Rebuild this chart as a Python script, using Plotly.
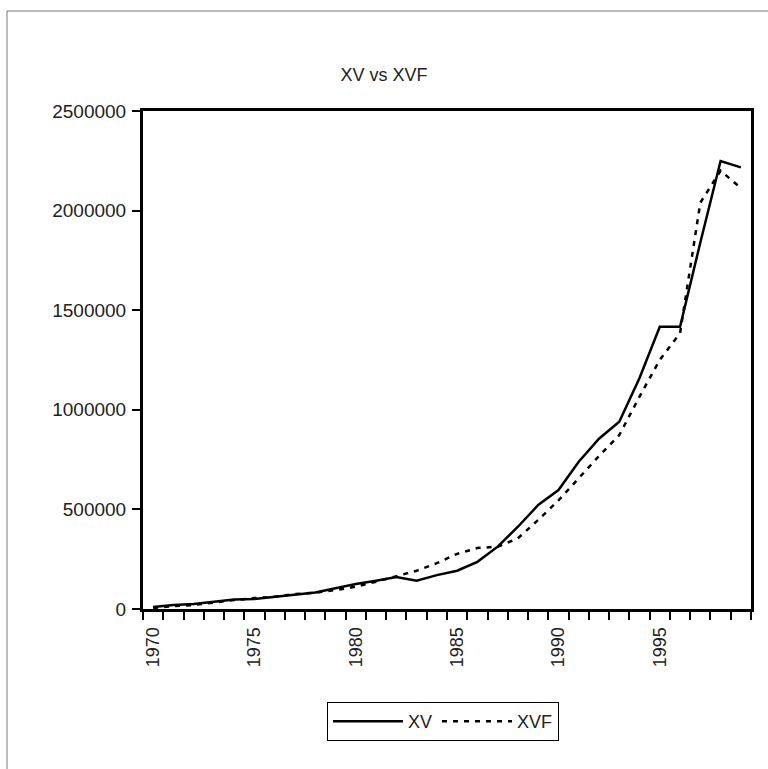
import plotly.graph_objects as go

years = list(range(1970, 2000))
xv = [10000, 20000, 25000, 37000, 48000, 50000, 62000, 73000, 83000, 104000,
      125000, 142000, 160000, 142000, 170000, 192000, 237000, 313000, 413000, 522000,
      597000, 739000, 855000, 940000, 1160000, 1417000, 1417000, 1840000, 2249000, 2217000]
xvf = [5000, 15000, 20000, 33000, 45000, 55000, 62000, 75000, 82000, 95000,
       112000, 137000, 166000, 192000, 230000, 277000, 306000, 313000, 355000, 447000,
       545000, 658000, 768000, 873000, 1066000, 1251000, 1385000, 2040000, 2200000, 2113000]
x_labels = [1970, 1975, 1980, 1985, 1990, 1995]
y_ticks = [0, 500000, 1000000, 1500000, 2000000, 2500000]

W, H = 768, 769
L, R, T, B = 143, 17, 111, 160
pw, ph = W - L - R, H - T - B

def px(x):
    return (x - L) / pw

def py(y):
    return (H - B - y) / ph

font = "Liberation Sans, Arial, sans-serif"

fig = go.Figure()
fig.add_trace(go.Scatter(x=years, y=xv, mode="lines", name="XV",
                         line=dict(color="black", width=2.5)))
fig.add_trace(go.Scatter(x=years, y=xvf, mode="lines", name="XVF",
                         line=dict(color="black", width=2.5, dash="5px,6px")))

fig.update_layout(
    width=W, height=H,
    margin=dict(l=L, r=R, t=T, b=B, autoexpand=False),
    paper_bgcolor="white", plot_bgcolor="white",
    font=dict(family=font, color="#222", size=18),
    title=dict(text="XV vs XVF", xref="container", x=384 / W, xanchor="center",
               yref="container", y=1 - 75 / H, yanchor="middle",
               font=dict(size=18, color="#222")),
    showlegend=True,
    legend=dict(orientation="h", x=px(443), xanchor="center",
                y=py(702), yanchor="top", bordercolor="black", borderwidth=1,
                font=dict(size=18, color="#222"), itemwidth=70,
                bgcolor="white"),
    shapes=[dict(type="rect", xref="paper", yref="paper",
                 x0=px(7), x1=px(790), y0=py(790), y1=py(11),
                 line=dict(color="#777", width=1), layer="below")],
)

fig.update_xaxes(
    range=[1969.5, 1999.5], tickmode="array", tickvals=x_labels,
    ticktext=[str(v) for v in x_labels], tickangle=-90, ticks="",
    showline=True, linecolor="black", linewidth=3, mirror=True,
    showgrid=False, zeroline=False,
    tickfont=dict(size=18, color="#222"), ticklabelstandoff=8,
    minor=dict(tickmode="linear", tick0=1969.5, dtick=1, ticks="outside",
               ticklen=8, tickwidth=1.5, tickcolor="black", showgrid=False),
)
fig.update_yaxes(
    range=[0, 2500000], tickmode="array", tickvals=y_ticks,
    ticktext=[str(v) for v in y_ticks], ticks="outside", ticklen=8,
    tickwidth=1.5, tickcolor="black",
    showline=True, linecolor="black", linewidth=3, mirror=True,
    showgrid=False, zeroline=False,
    tickfont=dict(size=19, color="#222"), ticklabelstandoff=2,
)

fig.write_html("out.html")
